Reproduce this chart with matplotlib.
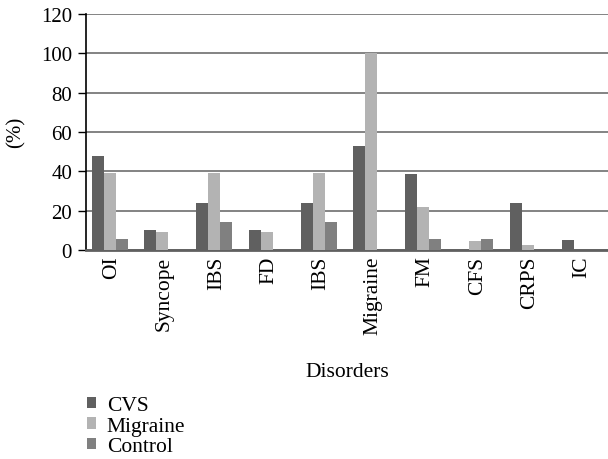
import numpy as np
import matplotlib
matplotlib.use("Agg")
import matplotlib.pyplot as plt

plt.rcParams['font.family'] = ['Liberation Serif', 'DejaVu Serif']

categories = ["OI", "Syncope", "IBS", "FD", "IBS", "Migraine", "FM", "CFS", "CRPS", "IC"]
cvs      = [48, 10, 24, 10, 24, 53, 38.5, 0, 24, 5]
migraine = [39, 9, 39, 9, 39, 100, 22, 4.5, 2.5, 0]
control  = [5.5, 0, 14, 0, 14, 0, 5.5, 5.5, 0, 0]

series = [("CVS", cvs, "#606060"), ("Migraine", migraine, "#b3b3b3"), ("Control", control, "#808080")]

fig = plt.figure(figsize=(6.08, 4.60), dpi=100)
ax = fig.add_axes([86/608, 1 - 251/460, 1 - 86/608, 236/460])

x = np.arange(len(categories))
w = 0.23
for i, (name, vals, col) in enumerate(series):
    ax.bar(x + (i - 1) * w - 0.04, vals, width=w, color=col, label=name, zorder=3)

ax.set_ylim(0, 120)
ax.set_xlim(-0.5, len(categories) - 0.5)
ax.set_yticks(range(0, 121, 20))
ax.yaxis.grid(True, color="#7a7a7a", linewidth=1.3, zorder=0)
ax.set_axisbelow(True)

ax.set_xticks(x)
ax.set_xticklabels(categories, rotation=90, fontsize=15.5)
ax.tick_params(axis="x", length=0, pad=4)
ax.tick_params(axis="y", labelsize=15, length=6, width=1, direction="out", pad=4)

for s in ["top", "right"]:
    ax.spines[s].set_visible(False)
ax.spines["left"].set_color("black")
ax.spines["left"].set_linewidth(1.2)
ax.spines["bottom"].set_color("#606060")
ax.spines["bottom"].set_linewidth(2)

ax.set_xlabel("Disorders", fontsize=15.5, labelpad=20)
fig.text(16/608, 1 - 132/460, "(%)", fontsize=15, rotation=90, ha="center", va="center")

fig.legend(loc="upper left", bbox_to_anchor=(87/608, 1 - 397/460), frameon=False,
           fontsize=15.5, handlelength=0.42, handleheight=0.42, handletextpad=0.5,
           labelspacing=0.08, borderaxespad=0, borderpad=0)

fig.savefig("out.png", dpi=100)
